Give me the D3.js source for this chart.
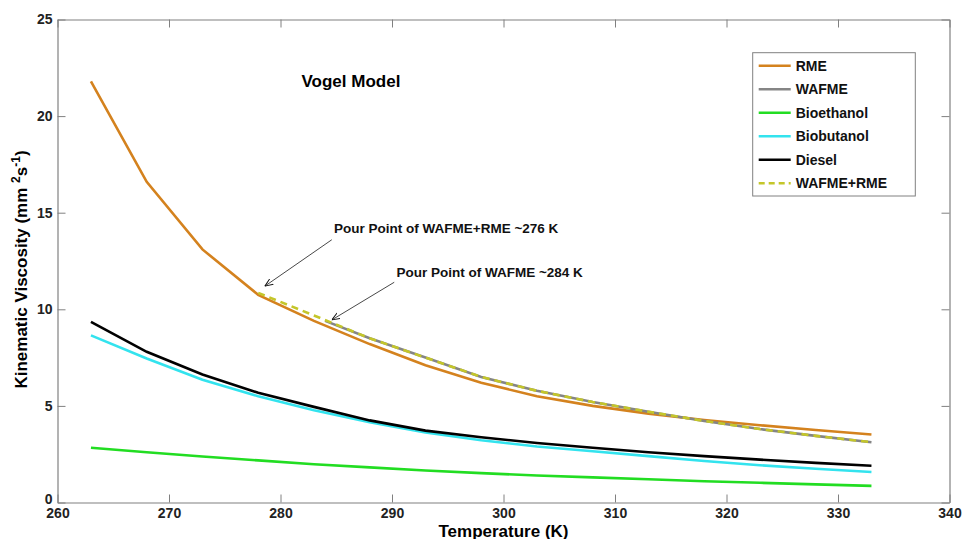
<!DOCTYPE html>
<html>
<head>
<meta charset="utf-8">
<script src="https://cdn.jsdelivr.net/npm/d3@7"></script>
<style>
  body { margin: 0; background: #fff; }
  text { font-family: "Liberation Sans", Arial, sans-serif; font-weight: bold; }
</style>
</head>
<body>
<div id="chart"></div>
<script>
// temperatures (K) sampled by the model
var temps = [263, 268, 273, 278, 283, 288, 293, 298, 303, 308, 313, 318, 323, 328, 333];
var tempsWafme = [284, 288, 293, 298, 303, 308, 313, 318, 323, 328, 333];
var tempsBlend = [278, 283, 288, 293, 298, 303, 308, 313, 318, 323, 328, 333];

// kinematic viscosity values (mm2/s)
var rme = [21.8, 16.6, 13.1, 10.75, 9.4, 8.2, 7.1, 6.2, 5.5, 5.0, 4.6, 4.27, 4.0, 3.75, 3.52];
var wafme = [9.4, 8.5, 7.5, 6.5, 5.78, 5.2, 4.7, 4.22, 3.8, 3.45, 3.12];
var bioethanol = [2.83, 2.6, 2.38, 2.18, 1.98, 1.82, 1.66, 1.52, 1.4, 1.3, 1.2, 1.1, 1.02, 0.94, 0.86];
var biobutanol = [8.65, 7.45, 6.35, 5.5, 4.78, 4.15, 3.62, 3.22, 2.9, 2.65, 2.4, 2.15, 1.93, 1.75, 1.58];
var diesel = [9.35, 7.8, 6.63, 5.68, 4.95, 4.25, 3.72, 3.38, 3.08, 2.83, 2.6, 2.4, 2.22, 2.05, 1.9];
var wafmeRme = [10.85, 9.68, 8.5, 7.5, 6.5, 5.78, 5.2, 4.7, 4.22, 3.8, 3.45, 3.12];

var xTicks = [260, 270, 280, 290, 300, 310, 320, 330, 340];
var yTicks = [0, 5, 10, 15, 20, 25];

var series = [
  {name: "RME", t: temps, v: rme, color: "#d4821e", dash: null},
  {name: "WAFME", t: tempsWafme, v: wafme, color: "#858585", dash: null},
  {name: "Bioethanol", t: temps, v: bioethanol, color: "#22dd22", dash: null},
  {name: "Biobutanol", t: temps, v: biobutanol, color: "#33e3ee", dash: null},
  {name: "Diesel", t: temps, v: diesel, color: "#000000", dash: null},
  {name: "WAFME+RME", t: tempsBlend, v: wafmeRme, color: "#c4c62a", dash: "7,5"}
];

// set the dimensions and margins of the graph
var margin = {top: 19.5, right: 13.5, bottom: 36.5, left: 57.5},
    width = 963 - margin.left - margin.right,
    height = 539 - margin.top - margin.bottom;

var svg = d3.select("#chart")
  .append("svg")
    .attr("width", 963)
    .attr("height", 539)
  .append("g")
    .attr("transform", "translate(" + margin.left + "," + margin.top + ")");

var x = d3.scaleLinear().domain([260, 340]).range([0, width]);
var y = d3.scaleLinear().domain([0, 25]).range([height, 0]);

// axes with inward ticks (box style)
function styleAxis(g) {
  g.select(".domain").attr("stroke", "#808080").attr("stroke-width", 1.2);
  g.selectAll(".tick line").attr("stroke", "#808080");
  g.selectAll(".tick text").attr("fill", "#222").style("font-size", "14px").style("font-weight", "bold");
}

svg.append("g")
  .attr("transform", "translate(0," + height + ")")
  .call(d3.axisBottom(x).tickValues(xTicks).tickSize(-8).tickSizeOuter(0).tickPadding(6))
  .call(styleAxis);

svg.append("g")
  .call(d3.axisTop(x).tickValues(xTicks).tickSize(-8).tickSizeOuter(0).tickFormat(""))
  .call(styleAxis);

svg.append("g")
  .call(d3.axisLeft(y).tickValues(yTicks).tickSize(-8).tickSizeOuter(0).tickPadding(5))
  .call(styleAxis)
  .selectAll(".tick text")
    .filter(function(d) { return d === 0; })
    .attr("dy", "0.05em");

svg.append("g")
  .attr("transform", "translate(" + width + ",0)")
  .call(d3.axisRight(y).tickValues(yTicks).tickSize(-8).tickSizeOuter(0).tickFormat(""))
  .call(styleAxis);

// lines
var line = d3.line()
  .x(function(d) { return x(d[0]); })
  .y(function(d) { return y(d[1]); });

series.forEach(function(s) {
  var pts = s.t.map(function(t, i) { return [t, s.v[i]]; });
  svg.append("path")
    .datum(pts)
    .attr("fill", "none")
    .attr("stroke", s.color)
    .attr("stroke-width", 2.6)
    .attr("stroke-dasharray", s.dash)
    .attr("d", line);
});

// title
svg.append("text")
  .attr("x", 244)
  .attr("y", 67)
  .style("font-size", "17px")
  .text("Vogel Model");

// annotations with arrows
svg.append("defs").append("marker")
  .attr("id", "arrow")
  .attr("viewBox", "0 0 10 10")
  .attr("refX", 10).attr("refY", 5)
  .attr("markerWidth", 9).attr("markerHeight", 9)
  .attr("orient", "auto")
  .append("path")
    .attr("d", "M0,1 L10,5 L0,9")
    .attr("fill", "none")
    .attr("stroke", "#111")
    .attr("stroke-width", 1.2);

var notes = [
  {text: "Pour Point of WAFME+RME ~276 K", tx: 284.8, ty: 13.95, ax1: 284.6, ay1: 13.6, ax2: 278.6, ay2: 11.2},
  {text: "Pour Point of WAFME ~284 K", tx: 290.4, ty: 11.66, ax1: 290.2, ay1: 11.4, ax2: 284.6, ay2: 9.45}
];

notes.forEach(function(n) {
  svg.append("text")
    .attr("x", x(n.tx))
    .attr("y", y(n.ty))
    .style("font-size", "13.5px")
    .attr("fill", "#111")
    .text(n.text);
  svg.append("line")
    .attr("x1", x(n.ax1)).attr("y1", y(n.ay1))
    .attr("x2", x(n.ax2)).attr("y2", y(n.ay2))
    .attr("stroke", "#333")
    .attr("stroke-width", 0.9)
    .attr("marker-end", "url(#arrow)");
});

// axis labels
svg.append("text")
  .attr("x", width / 2)
  .attr("y", height + 34)
  .attr("text-anchor", "middle")
  .style("font-size", "17px")
  .text("Temperature (K)");

var ylab = svg.append("text")
  .attr("transform", "translate(-31," + (250) + ") rotate(-90)")
  .attr("text-anchor", "middle")
  .style("font-size", "17px");
ylab.append("tspan").text("Kinematic Viscosity (mm ");
ylab.append("tspan").attr("dy", -7).style("font-size", "12px").text("2");
ylab.append("tspan").attr("dy", 7).text("s");
ylab.append("tspan").attr("dy", -7).style("font-size", "12px").text("-1");
ylab.append("tspan").attr("dy", 7).text(")");

// legend
var lg = svg.append("g").attr("transform", "translate(" + (752.7 - margin.left) + "," + (52.7 - margin.top) + ")");
lg.append("rect")
  .attr("width", 162.6)
  .attr("height", 143.3)
  .attr("fill", "#fff")
  .attr("stroke", "#808080");

series.forEach(function(s, i) {
  var yy = 13 + i * 23.5;
  lg.append("line")
    .attr("x1", 6).attr("x2", 38)
    .attr("y1", yy).attr("y2", yy)
    .attr("stroke", s.color)
    .attr("stroke-width", 2.6)
    .attr("stroke-dasharray", s.dash ? "6,4" : null);
  lg.append("text")
    .attr("x", 43)
    .attr("y", yy + 5)
    .style("font-size", "14px")
    .attr("fill", "#111")
    .text(s.name);
});
</script>
</body>
</html>
